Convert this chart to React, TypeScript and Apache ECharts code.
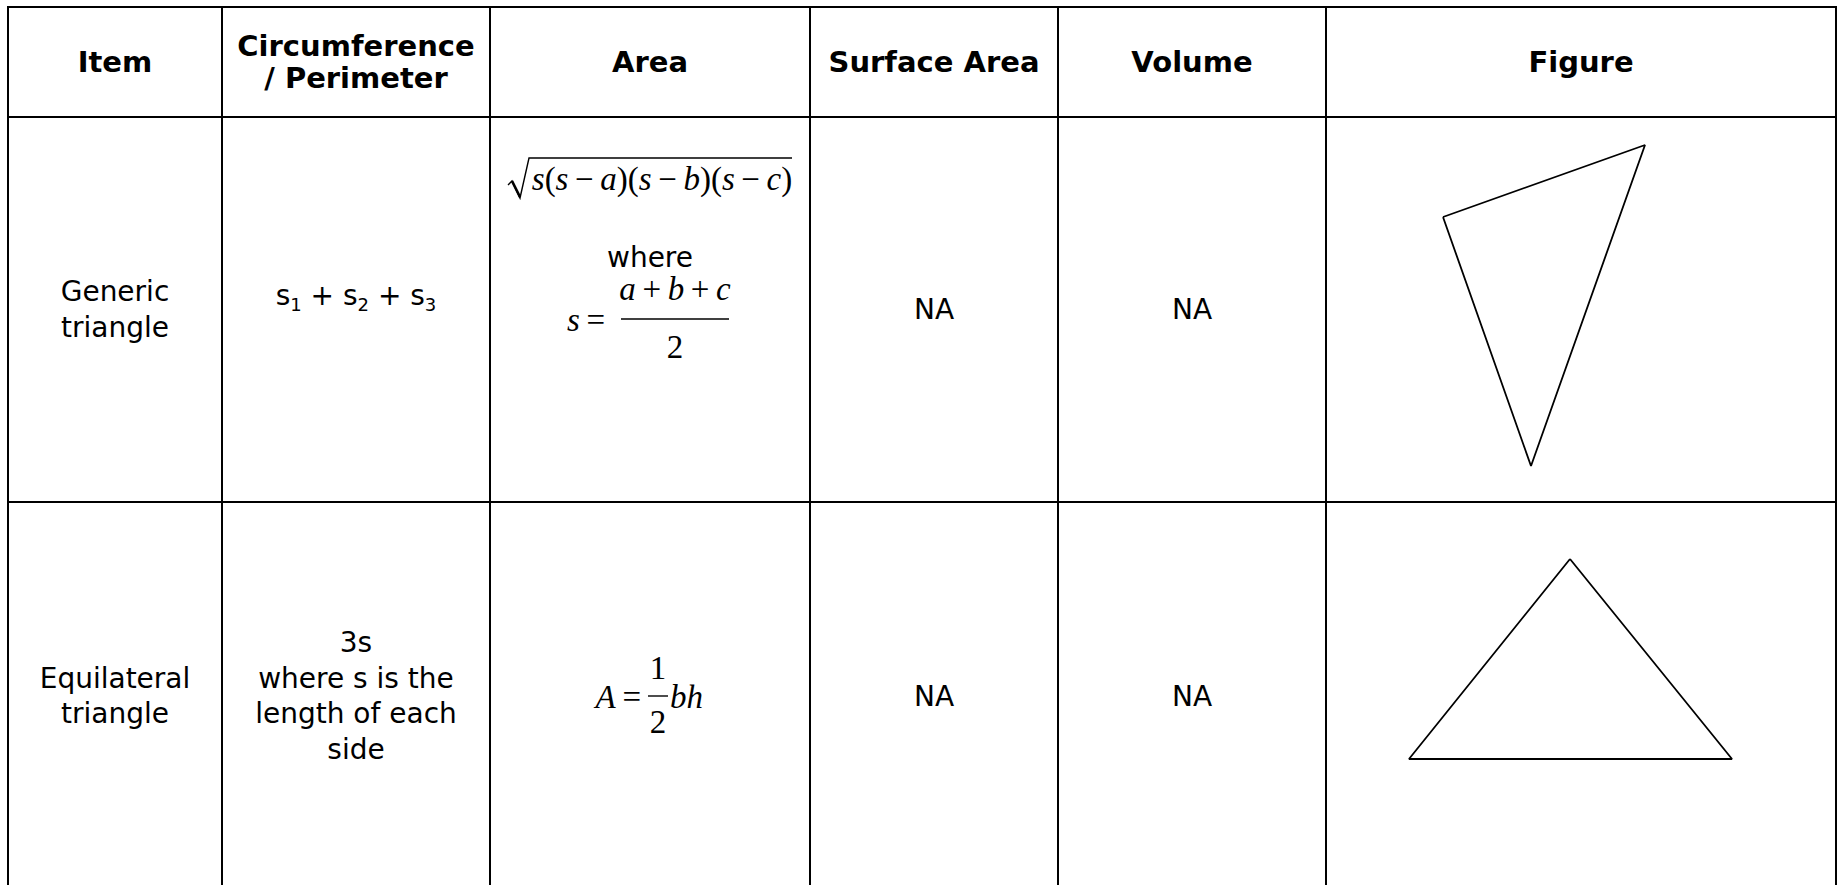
import React, { useEffect, useRef } from "react";
import * as echarts from "echarts";

// ---- data ----
const headers = ["Item", "Circumference\n/ Perimeter", "Area", "Surface Area", "Volume", "Figure"];
const items = ["Generic\ntriangle", "Equilateral\ntriangle"];
const perimeterTerms = ["1", "2", "3"]; // s₁ + s₂ + s₃
const perimeterEqui = "3s\nwhere s is the\nlength of each\nside";
const surfaceAreas = ["NA", "NA"];
const volumes = ["NA", "NA"];
const areaWhere = "where";
const heronRadicand = "s(s\u2009−\u2009a)(s\u2009−\u2009b)(s\u2009−\u2009c)";
const heronLhs = "s\u2009=";
const heronNum = "a\u2009+\u2009b\u2009+\u2009c";
const heronDen = "2";
const equiLhs = "A\u2009=";
const equiNum = "1";
const equiDen = "2";
const equiRhs = "bh";
// triangle vertices (figure drawings)
const genericTriangle: [number, number][] = [[1443, 217], [1645, 145], [1531, 466], [1443, 217]];
const equilateralTriangle: [number, number][] = [[1570, 559], [1409, 759], [1732, 759], [1570, 559]];

// ---- layout ----
const W = 1837;
const H = 885;
const colX = [8, 222, 490, 810, 1058, 1326, 1836];
const rowY = [7, 117, 502];
const SANS = "'DejaVu Sans', Verdana, sans-serif";
const SERIF = "'Liberation Serif', 'Times New Roman', serif";
const BODY = 28;
const MATH = 33;

function center(i: number) {
  return (colX[i] + colX[i + 1]) / 2;
}

function txt(text: string, x: number, y: number, opts: any = {}) {
  return {
    type: "text",
    silent: true,
    style: {
      text,
      x,
      y,
      fill: "#000",
      fontFamily: SANS,
      fontSize: BODY,
      fontWeight: "normal",
      lineHeight: 35.5,
      align: "center",
      verticalAlign: "middle",
      textAlign: "center",
      textVerticalAlign: "middle",
      ...opts,
    },
  };
}

function mathRich(s: string) {
  let out = "";
  for (const ch of s) {
    if (/[A-Za-z]/.test(ch)) out += `{i|${ch}}`;
    else out += `{u|${ch}}`;
  }
  return out;
}

const mathRichStyles = {
  i: { fontFamily: SERIF, fontStyle: "italic", fontSize: MATH, lineHeight: 28, fill: "#000" },
  u: { fontFamily: SERIF, fontStyle: "normal", fontSize: MATH, lineHeight: 28, fill: "#000" },
};

function mtxt(s: string, x: number, y: number, align = "center") {
  return {
    type: "text",
    silent: true,
    style: {
      text: mathRich(s),
      rich: mathRichStyles,
      x,
      y,
      fill: "#000",
      fontFamily: SERIF,
      fontSize: MATH,
      lineHeight: 28,
      align,
      verticalAlign: "middle",
      textAlign: align,
      textVerticalAlign: "middle",
    },
  };
}

function hline(x1: number, x2: number, y: number, w = 2) {
  return { type: "line", silent: true, shape: { x1, y1: y, x2, y2: y }, style: { stroke: "#000", lineWidth: w } };
}
function vline(x: number, y1: number, y2: number, w = 2) {
  return { type: "line", silent: true, shape: { x1: x, y1, x2: x, y2 }, style: { stroke: "#000", lineWidth: w } };
}

export default function App() {
  const ref = useRef<HTMLDivElement>(null);
  useEffect(() => {
    document.body.style.margin = "0";
    const chart = echarts.init(ref.current!, null, { renderer: "svg" });
    const g: any[] = [];
    g.push({ type: "rect", silent: true, shape: { x: 0, y: 0, width: W, height: H }, style: { fill: "#fff" } });
    // grid lines
    rowY.forEach((y) => g.push(hline(colX[0] - 1, colX[colX.length - 1] + 1, y)));
    colX.forEach((x) => g.push(vline(x, rowY[0] - 1, H + 5)));
    // headers
    headers.forEach((h, i) =>
      g.push(txt(h, center(i), (rowY[0] + rowY[1]) / 2, { fontWeight: "bold", fontSize: 29, lineHeight: 31.5 }))
    );
    const r1 = (rowY[1] + rowY[2]) / 2;
    const r2 = 696;
    // row 1
    g.push(txt(items[0], center(0), r1));
    const permRich = perimeterTerms
      .map((d) => `{n|s}{sub|${d}}`)
      .join("{n| + }");
    g.push({
      type: "text",
      silent: true,
      style: {
        text: permRich,
        x: center(1),
        y: 295,
        fill: "#000",
        fontFamily: SANS,
        fontSize: BODY,
        align: "center",
        verticalAlign: "middle",
        textAlign: "center",
        textVerticalAlign: "middle",
        rich: {
          n: { fontFamily: SANS, fontSize: BODY, lineHeight: 36, verticalAlign: "middle", fill: "#000" },
          sub: { fontFamily: SANS, fontSize: 18, lineHeight: 25, verticalAlign: "bottom", fill: "#000" },
        },
      },
    });
    g.push(txt(surfaceAreas[0], center(3), r1));
    g.push(txt(volumes[0], center(4), r1));
    // row 2
    g.push(txt(items[1], center(0), r2));
    g.push(txt(perimeterEqui, center(1), r2));
    g.push(txt(surfaceAreas[1], center(3), r2));
    g.push(txt(volumes[1], center(4), r2));
    // Heron formula
    g.push({
      type: "polyline",
      silent: true,
      shape: { points: [[508, 185], [512, 181], [520, 198], [529, 158], [792, 158]] },
      style: { stroke: "#000", lineWidth: 1.4, fill: null },
    });
    g.push({
      type: "line",
      silent: true,
      shape: { x1: 512, y1: 181, x2: 520, y2: 197 },
      style: { stroke: "#000", lineWidth: 2.6 },
    });
    g.push(mtxt(heronRadicand, 662, 179));
    g.push(txt(areaWhere, center(2), 257, { lineHeight: 24 }));
    g.push(mtxt(heronLhs, 605, 320, "right"));
    g.push(hline(621, 729, 319, 1.4));
    g.push(mtxt(heronNum, 675, 289));
    g.push(mtxt(heronDen, 675, 347));
    // equilateral area
    g.push(mtxt(equiLhs, 641, 697, "right"));
    g.push(hline(648, 668, 696, 1.4));
    g.push(mtxt(equiNum, 658, 668));
    g.push(mtxt(equiDen, 658, 722));
    g.push(mtxt(equiRhs, 670, 697, "left"));

    chart.setOption({
      animation: false,
      backgroundColor: "#fff",
      grid: { left: 0, right: 0, top: 0, bottom: 0 },
      xAxis: { type: "value", min: 0, max: W, show: false },
      yAxis: { type: "value", min: 0, max: H, inverse: true, show: false },
      graphic: { elements: g },
      series: [
        {
          type: "line",
          data: genericTriangle,
          symbol: "none",
          silent: true,
          z: 10,
          lineStyle: { color: "#000", width: 1.8 },
        },
        {
          type: "line",
          data: equilateralTriangle,
          symbol: "none",
          silent: true,
          z: 10,
          lineStyle: { color: "#000", width: 1.8 },
        },
      ],
    });
    return () => chart.dispose();
  }, []);
  return <div ref={ref} style={{ width: W, height: H }} />;
}
